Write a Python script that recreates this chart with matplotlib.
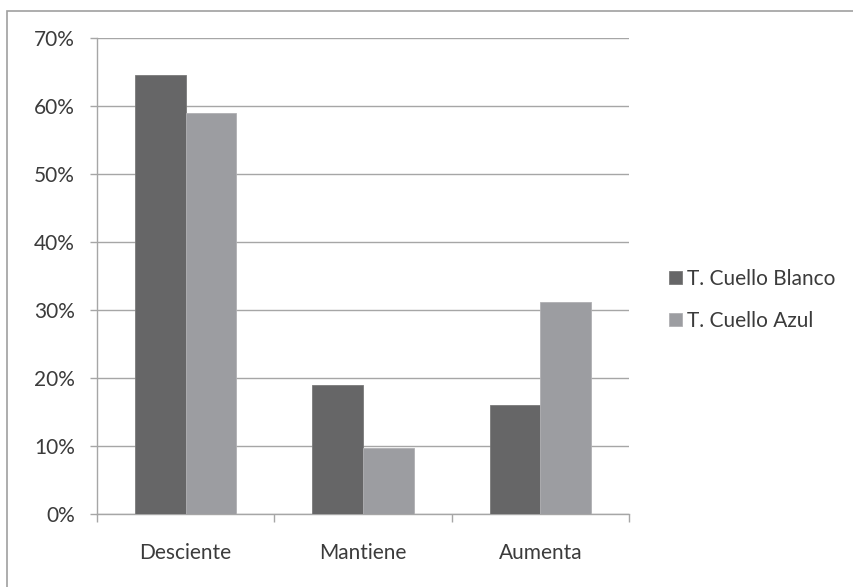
import matplotlib.pyplot as plt
from matplotlib.patches import Rectangle
import numpy as np

categories = ['Desciente', 'Mantiene', 'Aumenta']
blanco = [64.5, 18.9, 16.1]
azul = [59.0, 9.7, 31.2]
series_names = ['T. Cuello Blanco', 'T. Cuello Azul']
yticks = [0, 10, 20, 30, 40, 50, 60, 70]

plt.rcParams['font.family'] = ['Lato', 'DejaVu Sans']

dark = '#666667'
light = '#9c9da1'
grid_c = '#a6a6a6'
text_c = '#3b3b3b'

fig = plt.figure(figsize=(8.54, 5.87), dpi=100)
ax = fig.add_axes([97/854, 1 - 514/587, (629 - 97)/854, (514 - 38)/587])

x = np.arange(len(categories))
w = 0.285
ax.bar(x - w/2, blanco, w, color=dark, edgecolor='#7a7a7a', linewidth=0.6,
       label=series_names[0], zorder=3)
ax.bar(x + w/2, azul, w, color=light, edgecolor='#b0b0b3', linewidth=0.6,
       label=series_names[1], zorder=3)

ax.set_xlim(-0.5, 2.5)
ax.set_ylim(0, 70)
ax.set_yticks(yticks)
ax.set_yticklabels([f'{v}%' for v in yticks])
ax.set_xticks(x)
ax.set_xticklabels(categories)
ax.set_xticks([-0.5, 0.5, 1.5, 2.5], minor=True)

ax.yaxis.grid(True, color=grid_c, linewidth=1.0, zorder=0)
for s in ['top', 'right']:
    ax.spines[s].set_visible(False)
for s in ['left', 'bottom']:
    ax.spines[s].set_color(grid_c)
    ax.spines[s].set_linewidth(1.0)

ax.tick_params(axis='y', length=5, width=1, color=grid_c, pad=11,
               labelsize=15, labelcolor=text_c)
ax.tick_params(axis='x', which='major', length=0, pad=21,
               labelsize=15, labelcolor=text_c)
ax.tick_params(axis='x', which='minor', length=6, width=1, color=grid_c)

leg = ax.legend(loc='center left', bbox_to_anchor=(1.06, 0.45), frameon=False,
                fontsize=15, handlelength=0.6, handleheight=0.6,
                handletextpad=0.25, labelspacing=1.05, borderaxespad=0)
for t in leg.get_texts():
    t.set_color(text_c)

# outer chart border
fig.patches.append(Rectangle((7/854, -0.1), 1.2, 1 - 11/587 + 0.1,
                             transform=fig.transFigure, fill=False,
                             edgecolor='#a0a0a0', linewidth=1.2))

fig.savefig('out.png', dpi=100)
